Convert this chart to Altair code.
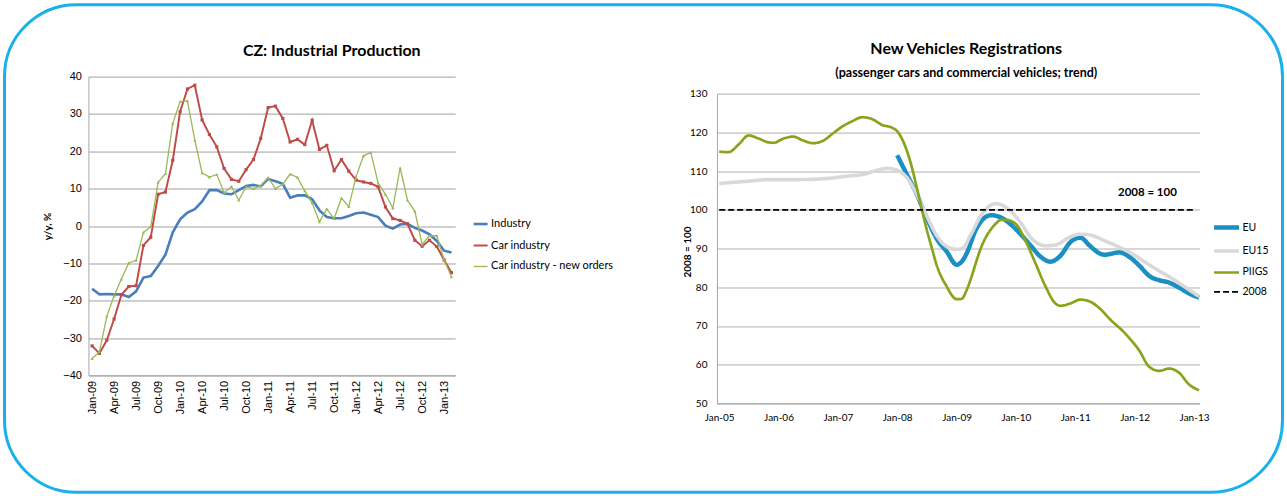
import altair as alt
import pandas as pd

FONT = "Lato"
AXIS_FONT = "Liberation Sans"

# ---------------- Left panel: CZ industrial production (y/y, %) ----------------
cz_months = [p.strftime("%b-%y") for p in pd.period_range("2009-01", "2013-02", freq="M")]
cz_tick_labels = cz_months[::3]

industry = [
    -16.8, -18.3, -18.2, -18.3, -18.3, -19.0, -17.5, -13.8, -13.4, -10.7,
    -7.7, -1.7, 1.8, 3.6, 4.5, 6.6, 9.6, 9.6, 8.7, 8.5,
    9.6, 10.7, 11.0, 10.6, 12.6, 12.0, 11.3, 7.6, 8.2, 8.2,
    7.2, 4.2, 2.4, 2.1, 2.1, 2.7, 3.4, 3.6, 3.0, 2.4,
    0.1, -0.7, 0.4, 0.6, -0.5, -1.2, -2.2, -4.0, -6.6, -7.1,
]
car_industry = [
    -32.1, -34.1, -30.6, -24.9, -18.4, -16.2, -16.0, -5.2, -3.0, 8.5,
    9.1, 17.6, 30.6, 36.7, 37.7, 28.4, 24.5, 21.2, 15.4, 12.5,
    12.0, 15.1, 17.8, 23.5, 31.7, 32.1, 28.8, 22.5, 23.2, 21.8,
    28.3, 20.5, 21.6, 14.8, 17.8, 14.7, 12.3, 11.8, 11.4, 10.5,
    5.1, 2.0, 1.5, 0.6, -3.8, -5.4, -3.8, -5.5, -9.1, -12.5,
]
car_new_orders = [
    -35.5, -33.7, -24.2, -18.7, -14.2, -9.9, -9.2, -1.7, -0.2, 11.7,
    14.0, 27.5, 33.3, 33.5, 23.0, 14.2, 13.1, 13.8, 8.9, 10.6,
    6.9, 10.5, 10.0, 10.8, 13.0, 10.0, 11.2, 13.9, 13.0, 9.4,
    6.2, 1.1, 4.6, 2.0, 7.5, 5.2, 13.3, 18.8, 19.7, 11.5,
    8.5, 4.8, 15.6, 6.9, 4.0, -4.9, -2.6, -2.6, -9.1, -13.6,
]
cz_series = ["Industry", "Car industry", "Car industry - new orders"]
cz_colors = ["#4a7ebb", "#be4b48", "#98b954"]
cz_widths = [2.6, 1.3, 1.3]

cz = pd.DataFrame({
    "month": cz_months * 3,
    "series": [s for s in cz_series for _ in cz_months],
    "value": industry + car_industry + car_new_orders,
})

# ---------------- Right panel: new vehicle registrations (2008 = 100) ----------------
eu_dates = [
    "2008-01", "2008-03", "2008-05", "2008-07", "2008-09", "2008-11", "2009-01", "2009-02",
    "2009-03", "2009-05", "2009-07", "2009-08", "2009-10", "2009-12", "2010-02", "2010-04",
    "2010-06", "2010-08", "2010-10", "2010-12", "2011-02", "2011-04", "2011-06", "2011-07",
    "2011-10", "2011-12", "2012-02", "2012-04", "2012-06", "2012-08", "2012-10", "2012-12",
    "2013-02",
]
eu_values = [
    114.1, 109.1, 104.0, 97.9, 92.5, 89.2, 85.8, 86.6,
    88.5, 95.0, 98.2, 98.6, 98.0, 96.2, 93.6, 90.8,
    87.9, 86.6, 88.1, 91.6, 92.8, 90.7, 88.7, 88.4,
    89.0, 87.8, 85.5, 82.9, 81.8, 81.2, 79.9, 78.4,
    77.3,
]
eu15_dates = [
    "2005-01", "2005-07", "2005-11", "2006-05", "2006-11", "2007-03", "2007-06", "2007-09",
    "2007-11", "2008-01", "2008-03", "2008-05", "2008-07", "2008-09", "2008-11", "2009-01",
    "2009-02", "2009-04", "2009-06", "2009-09", "2009-11", "2010-02", "2010-04", "2010-07",
    "2010-09", "2010-12", "2011-02", "2011-04", "2011-07", "2011-10", "2012-01", "2012-03",
    "2012-06", "2012-09", "2012-11", "2013-02",
]
eu15_values = [
    106.8, 107.4, 107.8, 107.8, 108.1, 108.7, 109.1, 110.2,
    110.7, 110.2, 108.3, 104.0, 98.4, 93.3, 90.5, 89.8,
    89.9, 93.8, 98.6, 101.6, 100.6, 96.6, 92.9, 90.7,
    90.9, 93.0, 93.7, 93.5, 92.0, 90.3, 88.3, 86.6,
    84.2, 81.9, 80.2, 77.6,
]
piigs_dates = [
    "2005-01", "2005-03", "2005-05", "2005-07", "2005-09", "2005-11", "2005-12", "2006-02",
    "2006-04", "2006-06", "2006-08", "2006-10", "2006-12", "2007-02", "2007-04", "2007-06",
    "2007-08", "2007-10", "2007-12", "2008-01", "2008-02", "2008-03", "2008-04", "2008-05",
    "2008-06", "2008-07", "2008-08", "2008-09", "2008-10", "2008-11", "2008-12", "2009-01",
    "2009-02", "2009-03", "2009-04", "2009-05", "2009-06", "2009-07", "2009-08", "2009-09",
    "2009-10", "2009-11", "2010-01", "2010-03", "2010-05", "2010-07", "2010-09", "2010-10",
    "2010-12", "2011-02", "2011-04", "2011-06", "2011-08", "2011-11", "2012-02", "2012-04",
    "2012-06", "2012-08", "2012-10", "2012-12", "2013-02",
]
piigs_values = [
    115.0, 114.9, 116.9, 119.2, 118.4, 117.4, 117.3, 118.4,
    118.9, 117.9, 117.2, 117.8, 119.7, 121.6, 122.9, 123.9,
    123.4, 121.9, 121.2, 120.3, 118.2, 115.2, 110.9, 105.7,
    100.1, 94.9, 90.2, 85.6, 82.5, 80.2, 78.0, 76.9,
    77.0, 79.0, 82.5, 86.5, 90.3, 93.0, 95.0, 96.5,
    97.4, 97.4, 96.3, 92.0, 86.2, 80.3, 75.8, 75.2,
    75.8, 76.8, 76.3, 74.5, 71.8, 68.2, 63.5, 59.4,
    58.4, 59.0, 57.9, 54.9, 53.4,
]
base_dates = ["2005-01", "2013-01"]
base_values = [100, 100]

reg_series = ["EU", "EU15", "PIIGS", "2008"]
reg_colors = ["#1b8fc4", "#d9d9d9", "#86a51b", "#000000"]
reg_widths = [4.5, 1.8, 2.0, 2.6]
reg_dashes = [[1, 0], [1, 0], [1, 0], [6, 3]]

reg_frames = []
for name, dates, values in [
    ("EU", eu_dates, eu_values),
    ("EU15", eu15_dates, eu15_values),
    ("PIIGS", piigs_dates, piigs_values),
    ("2008", base_dates, base_values),
]:
    reg_frames.append(pd.DataFrame({
        "date": [d + "-01T00:00" for d in dates],
        "series": name,
        "value": values,
    }))
reg = pd.concat(reg_frames, ignore_index=True)

# horizontal dash used as the legend symbol
LEGEND_STROKE = "M-1,0H1"

# ---------------- Left panel ----------------
left_legend = dict(
    title=None, orient="none", legendX=384, legendY=139, symbolType=LEGEND_STROKE,
    symbolSize=196, labelFont=FONT, labelFontSize=11, labelColor="#000000",
    rowPadding=8, labelOffset=2, padding=0,
)
x_left = alt.X(
    "month:O", sort=cz_months,
    scale=alt.Scale(type="point", padding=0.5, domain=cz_months),
    axis=alt.Axis(
        values=cz_tick_labels, labelAngle=-90, labelFont=AXIS_FONT, labelFontSize=11,
        labelColor="#000000", labelPadding=5, ticks=False, domainColor="#a6a6a6",
        grid=False, title=None,
    ),
)
y_left = alt.Y(
    "value:Q",
    scale=alt.Scale(domain=[-40, 40], nice=False, zero=False),
    axis=alt.Axis(
        values=list(range(-40, 41, 10)), grid=True, gridColor="#a0a0a0",
        domainColor="#a6a6a6", ticks=False, labelFont=AXIS_FONT, labelFontSize=11,
        labelColor="#000000", labelPadding=7, title="y/y, %", titleFont=FONT,
        titleFontSize=10, titleFontWeight="bold", titleColor="#000000",
        titleX=-41, titleY=149.5, titleBaseline="middle", titleAlign="center",
    ),
)
color_left = alt.Color(
    "series:N", scale=alt.Scale(domain=cz_series, range=cz_colors),
    legend=alt.Legend(**left_legend),
)
width_left = alt.StrokeWidth(
    "series:N", scale=alt.Scale(domain=cz_series, range=cz_widths),
    legend=alt.Legend(**left_legend),
)
base_left = alt.Chart(cz).encode(x=x_left, y=y_left, color=color_left, strokeWidth=width_left)

industry_line = base_left.transform_filter(alt.datum.series == "Industry").mark_line()
car_line = base_left.transform_filter(alt.datum.series == "Car industry").mark_line(
    point=alt.OverlayMarkDef(shape="square", size=10, filled=True, opacity=1)
)
orders_line = base_left.transform_filter(
    alt.datum.series == "Car industry - new orders"
).mark_line(point=alt.OverlayMarkDef(shape="triangle-up", size=10, filled=True, opacity=1))

# rounded frame around both panels
frame = alt.Chart(pd.DataFrame({"k": [0]})).mark_rect(
    cornerRadius=72, fill="transparent", stroke="#1ab0ec", strokeWidth=3
).encode(x=alt.value(-84), x2=alt.value(1195), y=alt.value(-72), y2=alt.value(416))

# the frame is the top of this panel's bounds, so the title offset is measured from it
left = alt.layer(frame, industry_line, car_line, orders_line).properties(
    width=367, height=299,
    title=alt.TitleParams(
        "CZ: Industrial Production", font=FONT, fontSize=16, fontWeight="bold",
        color="#000000", anchor="middle", dx=60, offset=-55.5, frame="group",
    ),
)

# ---------------- Right panel ----------------
right_legend = dict(
    title=None, orient="none", legendX=495, legendY=136, symbolType=LEGEND_STROKE,
    symbolSize=625, labelFont=FONT, labelFontSize=10.5, labelColor="#000000",
    rowPadding=-3, labelOffset=1, padding=0,
)
x_right = alt.X(
    "date:T",
    scale=alt.Scale(domain=[alt.DateTime(year=2004, month=12, date=18),
                            alt.DateTime(year=2013, month=2, date=4)]),
    axis=alt.Axis(
        values=[alt.DateTime(year=y, month=1, date=1) for y in range(2005, 2014)],
        format="%b-%y", labelFont=FONT, labelFontSize=10, labelColor="#000000",
        labelPadding=9, ticks=False, domainColor="#a6a6a6", grid=False, title=None,
    ),
)
y_right = alt.Y(
    "value:Q",
    scale=alt.Scale(domain=[50, 130], range=[327, 17], nice=False, zero=False),
    axis=alt.Axis(
        values=list(range(50, 131, 10)), grid=True, gridColor="#b0b0b0",
        domainColor="#a6a6a6", ticks=False, labelFont=FONT, labelFontSize=10,
        labelColor="#000000", labelPadding=10, title="2008 = 100", titleFont=FONT,
        titleFontSize=10, titleFontWeight="bold", titleColor="#000000",
        titleX=-29, titleY=175, titleBaseline="middle", titleAlign="center",
    ),
)
color_right = alt.Color(
    "series:N", scale=alt.Scale(domain=reg_series, range=reg_colors),
    legend=alt.Legend(**right_legend),
)
width_right = alt.StrokeWidth(
    "series:N", scale=alt.Scale(domain=reg_series, range=reg_widths),
    legend=alt.Legend(**right_legend),
)
dash_right = alt.StrokeDash(
    "series:N", scale=alt.Scale(domain=reg_series, range=reg_dashes),
    legend=alt.Legend(**right_legend),
)
base_right = alt.Chart(reg).encode(
    x=x_right, y=y_right, color=color_right, strokeWidth=width_right, strokeDash=dash_right
)
right_layers = [
    base_right.transform_filter(alt.datum.series == s).mark_line(interpolate="monotone")
    for s in reg_series
]
base_label = alt.Chart(
    pd.DataFrame({"date": ["2012-03-20T00:00"], "value": [104.4], "label": ["2008 = 100"]})
).mark_text(font=FONT, fontSize=11.5, fontWeight="bold", color="#000000").encode(
    x=x_right, y=y_right, text="label:N"
)

right = alt.layer(*right_layers, base_label).properties(
    width=483, height=327,
    title=alt.TitleParams(
        "New Vehicles Registrations",
        subtitle="(passenger cars and commercial vehicles; trend)",
        font=FONT, fontSize=16, fontWeight="bold", color="#000000",
        subtitleFont=FONT, subtitleFontSize=12.5, subtitleFontWeight="bold",
        subtitleColor="#000000", subtitlePadding=10, anchor="middle", dx=8, offset=-3,
        frame="group",
    ),
)

chart = (
    alt.hconcat(left, right, spacing=262, bounds="flush")
    .resolve_scale(x="independent", y="independent", color="independent",
                   strokeWidth="independent", strokeDash="independent")
    .properties(padding={"left": 2.5, "top": 2.5, "right": 2.5, "bottom": 2.5})
    .configure(background="white")
    .configure_view(stroke="transparent")
)

chart.save("out.html", embed_options={"renderer": "svg", "actions": False})
